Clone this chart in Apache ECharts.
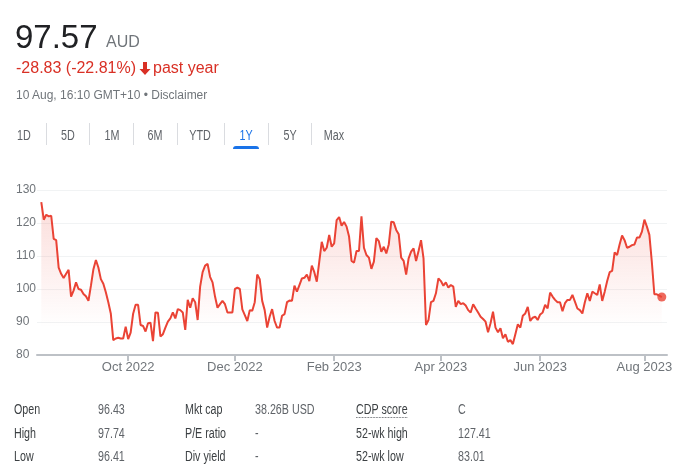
<!DOCTYPE html>
<html><head><meta charset="utf-8">
<script src="https://cdn.jsdelivr.net/npm/echarts@6/dist/echarts.min.js"></script>
<style>
html,body{margin:0;padding:0;background:#fff;width:681px;height:475px;overflow:hidden;}
#chart{position:absolute;left:0;top:0;width:681px;height:475px;}
.t{position:absolute;white-space:nowrap;font-family:"Liberation Sans",Arial,sans-serif;line-height:1;}
.n{transform-origin:0 50%;transform:scaleX(0.765);}
</style></head><body>
<div id="chart"></div>
<div id="overlay"></div>
<script>
// ---- data ----
const prices = [
126.3,121.0,122.5,122.0,122.2,115.2,114.8,106.5,104.6,103.3,
104.6,105.8,97.7,99.5,102.0,100.0,99.8,98.5,97.8,96.4,
101.0,106.0,108.8,106.5,103.0,101.6,99.0,96.0,92.6,84.5,
85.0,85.2,85.0,85.0,88.6,84.8,86.8,92.5,95.2,95.2,
89.1,88.8,87.1,89.6,89.8,84.2,92.9,92.8,85.6,86.3,
88.3,90.1,91.1,92.9,91.1,93.9,93.6,92.9,87.6,96.7,
94.3,97.2,96.0,90.6,100.7,105.1,107.1,107.6,103.7,102.0,
97.7,94.3,95.4,96.4,95.4,92.9,92.9,92.9,100.0,100.4,
100.0,93.8,92.1,90.3,93.6,93.4,96.0,104.4,103.0,96.4,
93.6,88.3,91.6,93.9,90.3,88.3,88.3,91.9,92.4,96.0,
96.5,96.4,101.0,99.2,101.2,103.2,103.4,104.4,102.4,107.1,
105.1,102.2,108.3,114.3,111.5,112.5,116.4,112.8,113.8,120.9,
121.8,119.2,120.3,118.9,115.9,108.5,108.0,111.5,111.5,122.0,
112.5,110.3,109.5,106.1,108.3,115.4,114.5,111.3,112.8,110.8,
113.5,120.4,120.2,117.9,116.6,109.5,108.5,104.4,109.3,111.3,
112.3,108.5,111.5,114.8,109.3,89.1,90.6,96.0,96.4,98.7,
103.2,102.4,101.0,102.0,100.4,101.2,100.7,94.6,96.4,95.4,
95.7,95.0,93.6,92.9,95.4,94.1,92.9,91.6,90.9,90.1,
86.9,89.6,93.1,88.3,86.9,88.1,85.1,86.3,84.0,84.5,
83.3,86.3,89.3,88.3,91.9,92.6,94.6,90.3,91.3,91.6,
90.6,92.3,92.9,95.2,94.1,98.9,97.7,96.7,96.0,96.0,
93.3,95.7,96.7,96.7,98.2,96.2,94.1,93.6,92.6,96.0,
98.7,96.4,99.2,98.7,98.2,101.4,96.4,99.2,102.4,105.1,
105.5,111.1,110.3,113.5,116.2,114.8,112.5,112.8,113.3,113.5,
115.6,115.6,117.4,121.0,118.9,116.4,108.1,98.4,98.4,98.0,
97.57
];
const tickIndex = [35, 78, 118, 161, 201, 243];
const tickLabels = ['Oct 2022', 'Dec 2022', 'Feb 2023', 'Apr 2023', 'Jun 2023', 'Aug 2023'];
const yMin = 80, yMax = 130, yStep = 10;

const tabs = ['1D', '5D', '1M', '6M', 'YTD', '1Y', '5Y', 'Max'];
const activeTab = '1Y';

const statLabels1 = ['Open', 'High', 'Low'];
const statValues1 = ['96.43', '97.74', '96.41'];
const statLabels2 = ['Mkt cap', 'P/E ratio', 'Div yield'];
const statValues2 = ['38.26B USD', '-', '-'];
const statLabels3 = ['CDP score', '52-wk high', '52-wk low'];
const statValues3 = ['C', '127.41', '83.01'];

// ---- header / tabs / table (HTML text) ----
const ov = document.getElementById('overlay');
function txt(s, left, top, size, color, cls, extra) {
  const d = document.createElement('div');
  d.className = 't ' + (cls || '');
  d.textContent = s;
  d.style.left = left + 'px'; d.style.top = top + 'px';
  d.style.fontSize = size + 'px'; d.style.color = color;
  if (extra) Object.assign(d.style, extra);
  ov.appendChild(d);
  return d;
}
txt('97.57', 15, 20, 33, '#202124');
txt('AUD', 106, 34, 16, '#70757a');
txt('-28.83 (-22.81%)', 16, 60, 16, '#d93025');
const arr = document.createElement('div');
arr.style.cssText = 'position:absolute;left:139px;top:61px;width:12px;height:13px;';
arr.innerHTML = '<svg width="12" height="13" viewBox="0 0 12 13"><path d="M4 0h4v7h3.5L6 13 0.5 7H4z" fill="#d93025"/></svg>';
ov.appendChild(arr);
txt('past year', 153, 60, 16, '#d93025');
txt('10 Aug, 16:10 GMT+10 \u2022 Disclaimer', 16, 89, 12, '#70757a');

const tabCenters = [24, 67.5, 111.5, 155, 200, 245.5, 289.5, 334];
const sepX = [45.7, 89.3, 133.3, 177, 223.7, 267.7, 311.3];
tabs.forEach((s, i) => {
  txt(s, tabCenters[i], 127.8, 14, s === activeTab ? '#1a73e8' : '#5f6368', '',
      {transform: 'translateX(-50%) scaleX(0.77)'});
});
sepX.forEach(x => {
  const d = document.createElement('div');
  d.style.cssText = 'position:absolute;top:123px;height:22px;width:1px;background:#dadce0;left:' + Math.round(x) + 'px;';
  ov.appendChild(d);
});
{
  const i = tabs.indexOf(activeTab);
  const d = document.createElement('div');
  d.style.cssText = 'position:absolute;top:145.5px;height:3px;width:26px;background:#1a73e8;border-radius:3px 3px 0 0;left:' + (tabCenters[i] - 13) + 'px;';
  ov.appendChild(d);
}
const rowTop = [401.5, 425.5, 449];
const cols = [[statLabels1, 14, '#3c4043'], [statValues1, 98, '#5f6368'], [statLabels2, 185, '#3c4043'],
              [statValues2, 255, '#5f6368'], [statLabels3, 356, '#3c4043'], [statValues3, 458, '#5f6368']];
cols.forEach(([arrv, x, c]) => {
  arrv.forEach((s, r) => {
    const d = txt(s, x, rowTop[r], 14, c, 'n');
    if (s === 'CDP score') { d.style.borderBottom = '1px dotted #5f6368'; d.style.paddingBottom = '1px'; }
  });
});

// ---- chart ----
const chart = echarts.init(document.getElementById('chart'), null, {renderer: 'canvas'});
const last = prices.length - 1;
chart.setOption({
  animation: false,
  grid: {left: 37, right: 14, top: 190, bottom: 120},
  xAxis: {
    type: 'value', min: -1.73, max: 252.1,
    splitLine: {show: false},
    axisLine: {show: true, onZero: false, lineStyle: {color: '#bdc1c6', width: 2}},
    axisTick: {show: true, customValues: tickIndex, length: 6, lineStyle: {color: '#bdc1c6', width: 2}},
    axisLabel: {customValues: tickIndex, formatter: v => tickLabels[tickIndex.indexOf(v)] || '',
      color: '#70757a', fontSize: 13, margin: 6, fontFamily: 'Liberation Sans, Arial, sans-serif'}
  },
  yAxis: {
    type: 'value', min: yMin, max: yMax, interval: yStep,
    axisLine: {show: false}, axisTick: {show: false},
    splitLine: {lineStyle: {color: '#f1f3f4', width: 1}},
    axisLabel: {align: 'left', margin: 21, color: '#70757a', fontSize: 12, fontFamily: 'Liberation Sans, Arial, sans-serif'}
  },
  series: [{
    type: 'line', data: prices.map((v, i) => [i, v]), showSymbol: false, smooth: false,
    lineStyle: {color: '#ea4335', width: 2},
    areaStyle: {color: new echarts.graphic.LinearGradient(0, 0, 0, 1, [
      {offset: 0, color: 'rgba(234,67,53,0.26)'}, {offset: 0.82, color: 'rgba(234,67,53,0)'}])}
  }, {
    type: 'scatter', data: [[last, prices[last]]], symbolSize: 9, itemStyle: {color: '#ea4335'}, z: 5
  }]
});
</script>
</body></html>
